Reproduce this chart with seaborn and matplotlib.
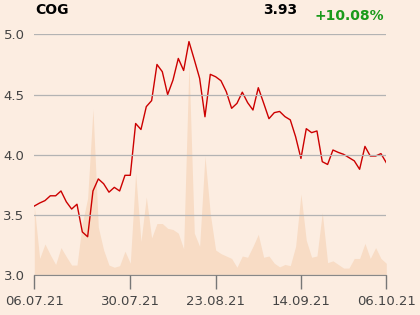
import matplotlib
matplotlib.use("Agg")
import matplotlib.pyplot as plt
import seaborn as sns
import numpy as np
import pandas as pd

ticker = "COG"
last_price = "3.93"
change_pct = "+10.08%"

tick_labels = ["06.07.21", "30.07.21", "23.08.21", "14.09.21", "06.10.21"]
tick_index = [0, 18, 34, 50, 66]

price = [3.575, 3.60, 3.62, 3.66, 3.66, 3.70, 3.61, 3.55, 3.59, 3.36,
         3.32, 3.70, 3.80, 3.76, 3.69, 3.73, 3.70, 3.83, 3.83, 4.26,
         4.21, 4.40, 4.45, 4.75, 4.69, 4.50, 4.62, 4.80, 4.70, 4.94,
         4.79, 4.635, 4.316, 4.668, 4.648, 4.615, 4.524, 4.386, 4.427, 4.52,
         4.433, 4.372, 4.557, 4.43, 4.30, 4.35, 4.36, 4.317, 4.29, 4.15,
         3.97, 4.217, 4.184, 4.198, 3.943, 3.92, 4.04, 4.02, 4.004, 3.977,
         3.95, 3.88, 4.07, 3.99, 3.99, 4.01, 3.935]

volume = [57, 14, 26, 17, 9, 23, 15.5, 8.5, 8.5, 43,
          64, 138, 40, 21, 8.5, 6.7, 8, 20, 10, 85,
          28, 65, 31, 43, 43, 39, 38, 35, 22, 176,
          35, 24, 99, 51, 21, 18, 16, 14, 6.7, 16,
          15, 24, 34, 15, 16, 10, 7, 9, 8, 24,
          67.5, 29, 15, 16, 52, 10.5, 12, 9, 6, 6,
          14, 14, 26.5, 14, 23, 14, 10]

df = pd.DataFrame({"i": np.arange(len(price)), "price": price, "volume": volume})

bg = "#fcede1"
plt.rcParams["font.family"] = ["DejaVu Sans"]

fig = plt.figure(figsize=(4.2, 3.15), dpi=100, facecolor=bg)
ax2 = fig.add_axes([0.0817, 0.126, 0.838, 0.765])
ax = fig.add_axes([0.0817, 0.126, 0.838, 0.765], sharex=ax2)
ax2.set_facecolor(bg)
ax.patch.set_visible(False)

ax2.fill_between(df["i"], df["volume"], 0, color="#f8dcc5", lw=0)
ax2.set_ylim(0, 200)
ax2.set_yticks([])
for s in ax2.spines.values():
    s.set_visible(False)

sns.lineplot(data=df, x="i", y="price", ax=ax, color="#cc0000", linewidth=1.0)
ax.set_ylim(3.0, 5.0)
ax.set_xlim(0, 66)
ax.set_yticks([3.0, 3.5, 4.0, 4.5, 5.0])
ax.set_yticklabels(["3.0", "3.5", "4.0", "4.5", "5.0"])
ax.set_xticks(tick_index)
ax.set_xticklabels(tick_labels)
ax.set_xlabel("")
ax.set_ylabel("")
ax.grid(axis="y", color="#b3b3b3", linewidth=0.9)
ax.set_axisbelow(False)
for k in ["left", "right", "top"]:
    ax.spines[k].set_visible(False)
ax.spines["bottom"].set_color("#888888")
ax.tick_params(axis="y", length=0, pad=7, labelsize=9.5, labelcolor="#444444")
ax.tick_params(axis="x", length=10, width=1, color="#777777", pad=4, labelsize=9.5, labelcolor="#444444")
ax2.tick_params(axis="x", length=0, labelbottom=False)

fig.text(0.083, 0.968, ticker, fontsize=10, fontweight="bold", ha="left", va="center", color="#000000")
fig.text(0.707, 0.968, last_price, fontsize=10, fontweight="bold", ha="right", va="center", color="#000000")
fig.text(0.914, 0.948, change_pct, fontsize=10, fontweight="bold", ha="right", va="center", color="#1a9a1a")

fig.savefig("out.png", dpi=100, facecolor=bg)
